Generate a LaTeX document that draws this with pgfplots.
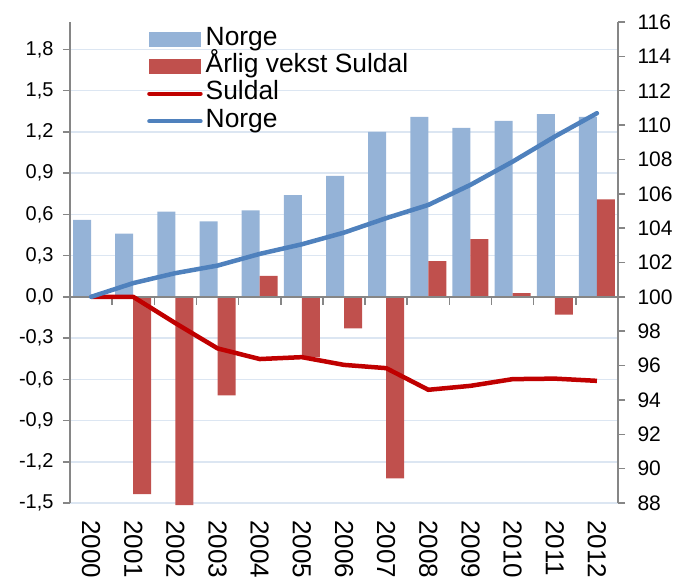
\documentclass[border=0pt]{standalone}
\usepackage{fontspec}
\setmainfont{Liberation Sans}
\usepackage{pgfplots}
\pgfplotsset{compat=1.18}
\definecolor{barblue}{HTML}{95B3D7}
\definecolor{barred}{HTML}{C0504D}
\definecolor{linered}{HTML}{C00000}
\definecolor{lineblue}{HTML}{4F81BD}
\definecolor{gridc}{HTML}{DCE6F2}
\definecolor{axisc}{HTML}{868686}
\pgfplotsset{linelegend/.style={legend image code/.code={\draw[##1, line cap=round] (0pt,0pt) -- (51pt,0pt);}}}
\begin{document}
\begin{tikzpicture}
\begin{axis}[name=ax,
  scale only axis, width=548pt, height=481pt,
  xmin=-0.5, xmax=12.5, ymin=-1.5, ymax=2.0,
  clip=false,
  axis y line*=left, axis x line*=bottom,
  x axis line style={draw=none},
  y axis line style={draw=axisc, line width=1.5pt},
  xtick={0,1,2,3,4,5,6,7,8,9,10,11,12},
  xticklabels={2000,2001,2002,2003,2004,2005,2006,2007,2008,2009,2010,2011,2012},
  x tick style={draw=none},
  xticklabel style={rotate=-90, anchor=west, font=\fontsize{26}{26}\selectfont, xshift=7pt, yshift=0pt},
  ytick={-1.5,-1.2,-0.9,-0.6,-0.3,0,0.3,0.6,0.9,1.2,1.5,1.8},
  yticklabel style={font=\fontsize{20}{20}\selectfont, xshift=-6pt, /pgf/number format/.cd, fixed, fixed zerofill, precision=1, use comma, assume math mode=true},
  tick align=outside, major tick length=7pt,
  y tick style={draw=axisc, line width=1.5pt},
  ymajorgrids, grid style={gridc, line width=1.5pt},
]
\addplot[ybar, bar width=18pt, bar shift=-9pt, fill=barblue, draw=none] coordinates {
(0,0.56) (1,0.46) (2,0.62) (3,0.55) (4,0.63) (5,0.74) (6,0.88) (7,1.20) (8,1.31) (9,1.23) (10,1.28) (11,1.33) (12,1.31)};
\addplot[ybar, bar width=18pt, bar shift=9pt, fill=barred, draw=none] coordinates {
(0,0) (1,-1.435) (2,-1.515) (3,-0.716) (4,0.153) (5,-0.44) (6,-0.23) (7,-1.32) (8,0.26) (9,0.42) (10,0.027) (11,-0.13) (12,0.71)};
\addplot[axisc, line width=1.5pt, no marks] coordinates {(-0.5,0) (12.5,0)};
\addplot[ycomb, axisc, line width=1.5pt, no marks] coordinates {
(0.5,-0.058) (1.5,-0.058) (2.5,-0.058) (3.5,-0.058) (4.5,-0.058) (5.5,-0.058) (6.5,-0.058) (7.5,-0.058) (8.5,-0.058) (9.5,-0.058) (10.5,-0.058) (11.5,-0.058)};
\end{axis}
\begin{axis}[
  scale only axis, width=548pt, height=481pt,
  xmin=-0.5, xmax=12.5, ymin=88, ymax=116,
  axis y line*=right, axis x line=none,
  y axis line style={draw=axisc, line width=1.5pt},
  ytick={88,90,92,94,96,98,100,102,104,106,108,110,112,114,116},
  yticklabel style={font=\fontsize{21}{21}\selectfont, xshift=9pt, /pgf/number format/assume math mode=true},
  tick align=outside, major tick length=7pt,
  y tick style={draw=axisc, line width=1.5pt},
  legend style={at={(0.1405,0.99)}, anchor=north west, draw=none, fill=none, inner sep=0pt,
    font=\fontsize{26.4}{26.4}\selectfont, row sep=3.4pt,
    nodes={inner ysep=0pt, inner xsep=3pt, text height=18pt, text depth=6pt}},
  legend cell align=left,
]
\addlegendimage{legend image code/.code={\fill[barblue] (0pt,-7pt) rectangle (51pt,7pt);}}
\addlegendentry{Norge}
\addlegendimage{legend image code/.code={\fill[barred] (0pt,-7pt) rectangle (51pt,7pt);}}
\addlegendentry{Årlig vekst Suldal}
\addplot[linered, line width=4.5pt, line join=round, no marks, linelegend] coordinates {
(0,100) (1,100) (2,98.47) (3,97.0) (4,96.38) (5,96.49) (6,96.04) (7,95.85) (8,94.59) (9,94.82) (10,95.21) (11,95.24) (12,95.11)};
\addlegendentry{Suldal}
\addplot[lineblue, line width=4.5pt, line join=round, line cap=round, no marks, linelegend] coordinates {
(0,100) (1,100.80) (2,101.38) (3,101.82) (4,102.50) (5,103.06) (6,103.74) (7,104.58) (8,105.35) (9,106.52) (10,107.87) (11,109.33) (12,110.69)};
\addlegendentry{Norge}
\end{axis}
\pgfresetboundingbox
\path ([shift={(-70pt,-74pt)}]ax.south west) rectangle ([shift={(56pt,22pt)}]ax.north east);
\end{tikzpicture}
\end{document}
